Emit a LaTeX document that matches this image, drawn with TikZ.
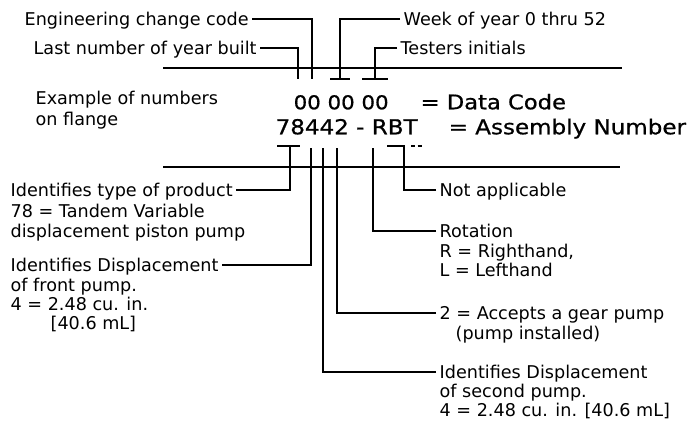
\documentclass[tikz,border=0pt]{standalone}
\usepackage{fontspec}
\setmainfont{DejaVu Sans}
\newfontfamily\codefont{DejaVu Sans}[FakeStretch=1.12, FakeBold=0.8]
\newcommand{\fitcode}[2]{\resizebox{#1}{!}{#2}}
\tikzset{every picture/.style={line width=1.5pt}}

\begin{document}
\begin{tikzpicture}[x=0.75pt,y=0.75pt,yscale=-1,xscale=1,
	lbl/.style={anchor=west, inner xsep=2pt, inner ysep=0pt, text height=9.6pt, text depth=0pt, font=\fontsize{13.2}{15}\selectfont},
	codetxt/.style={lbl, text height=10.9pt, font=\codefont\fontsize{15}{18}\selectfont},
	rulebar/.style={line width=1.8pt}]
	\useasboundingbox (0,0) rectangle (689,426);

	% Text Node
	\node [lbl] (engcode) at (21,19) {Engineering change code};
	% Text Node
	\node [lbl] (lastyr) at (30,48) {Last number of year built};
	% Text Node
	\node [lbl] (week) at (400,19) {Week of year 0 thru 52};
	% Text Node
	\node [lbl] (testers) at (397,48) {Testers initials};
	% Text Node
	\node [lbl] (example) at (32,98) {Example of numbers};
	\node [lbl] (flange) at (32,119) {on flange};
	% Text Node
	\node [codetxt] (datacode) at (290,102) {\fitcode{71.25pt}{00 00 00}};
	\node [codetxt] (dceq) at (417,102) {\fitcode{109pt}{= Data Code}};
	% Text Node
	\node [codetxt] (asmno) at (272,127) {\fitcode{106.5pt}{78442 - RBT}};
	\node [codetxt] (asmeq) at (445,127) {\fitcode{178pt}{= Assembly Number}};
	% Text Node
	\node [lbl] (typeprod) at (7,190) {Identifies type of product};
	\node [lbl] (typeprodb) at (7,211) {78 = Tandem Variable};
	\node [lbl] (typeprodc) at (7,231) {displacement piston pump};
	% Text Node
	\node [lbl] (dispfront) at (7,265) {Identifies Displacement};
	\node [lbl] (dispfrontb) at (7,285) {of front pump.};
	\node [lbl] (dispfrontc) at (7,304) {4 = 2.48 cu. in.};
	\node [lbl] (dispfrontd) at (47,323) {[40.6 mL]};
	% Text Node
	\node [lbl] (notapp) at (436,190) {Not applicable};
	% Text Node
	\node [lbl] (rot) at (436,231) {Rotation};
	\node [lbl] (rotb) at (436,251) {R = Righthand,};
	\node [lbl] (rotc) at (436,270) {L = Lefthand};
	% Text Node
	\node [lbl] (gear) at (436,313) {2 = Accepts a gear pump};
	\node [lbl] (gearb) at (452,333) {(pump installed)};
	% Text Node
	\node [lbl] (secpump) at (436,372) {Identifies Displacement};
	\node [lbl] (secpumpb) at (436,391) {of second pump.};
	\node [lbl] (secpumpc) at (436,410) {4 = 2.48 cu. in. [40.6 mL]};

	% tick ends
	\coordinate (yr) at (298,79);
	\coordinate (ecc) at (312,79);
	\coordinate (wk) at (340,79);
	\coordinate (ti) at (375,79);
	\coordinate (p78) at (290,146);
	\coordinate (p4a) at (311,148);
	\coordinate (p4b) at (323,148);
	\coordinate (p2) at (337,148);
	\coordinate (pR) at (373,148);
	\coordinate (pBT) at (404,146);

	%Straight Lines
	\draw [rulebar] (163,68) -- (622,68);
	\draw [rulebar] (163,167) -- (620,167);

	%Straight Lines
	\draw (engcode.east) -| (ecc);
	\draw (lastyr.east) -| (yr);
	\draw (week.west) -| (wk) ++(-10,0) -- ++(20,0);
	\draw (testers.west) -| (ti) ++(-13,0) -- ++(26,0);
	%Straight Lines
	\draw (typeprod.east) -| (p78) ++(-13,0) -- ++(23,0);
	\draw (dispfront.east) -| (p4a);
	\draw (secpump.west) -| (p4b);
	\draw (gear.west) -| (p2);
	\draw (rot.west) -| (pR);
	\draw (notapp.west) -| (pBT) -- ++(-17,0);
	\draw [line width=1pt, dash pattern=on 3pt off 2pt] (pBT) ++(7,0) -- ++(12,0);

\end{tikzpicture}
\end{document}
